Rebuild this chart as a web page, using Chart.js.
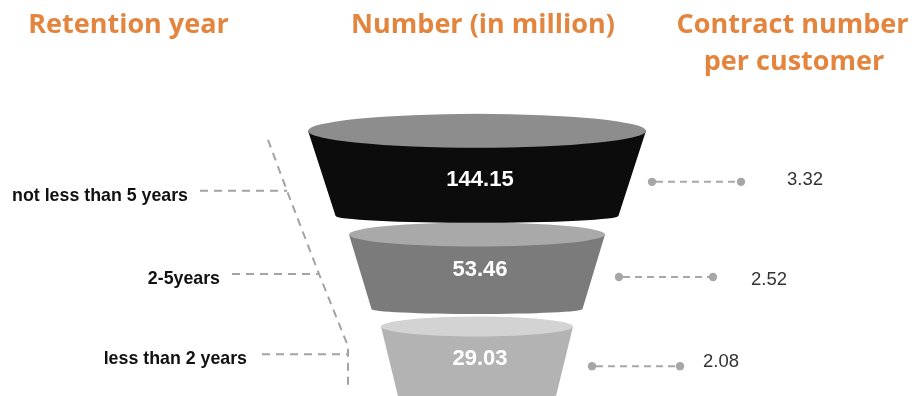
<!DOCTYPE html>
<html>
<head>
<meta charset="utf-8">
<script src="https://cdn.jsdelivr.net/npm/chart.js@4.4.1/dist/chart.umd.min.js"></script>
<style>
html,body{margin:0;padding:0;background:#fff;}
#wrap{width:917px;height:396px;position:relative;}
</style>
</head>
<body>
<div id="wrap"><canvas id="c" width="917" height="396"></canvas></div>
<script>
// ---- data ----
const categories = ["not less than 5 years", "2-5years", "less than 2 years"];
const customersMillion = [144.15, 53.46, 29.03];
const contractsPerCustomer = [3.32, 2.52, 2.08];
const headerTitles = ["Retention year", "Number (in million)", ["Contract number", "per customer"]];

// ---- styling (not data) ----
const ORANGE = "#E4853F";
const FUNNEL_STYLE = [
  { dTop: -60, dBot: 25, topHalf: 169, botHalf: 141.5, ry: 17, sag: 7, body: "#0c0c0c", cap: "#8d8d8d", textDy: 55 },
  { dTop: -38, dBot: 36.5, topHalf: 128, botHalf: 105.5, ry: 12, sag: 5, body: "#7b7b7b", cap: "#a9a9a9", textDy: 41.5 },
  { dTop: -27.7, dBot: 46, topHalf: 96, botHalf: 78, ry: 10, sag: 4, body: "#b3b3b3", cap: "#d3d3d3", textDy: 38.5 }
];
const RIGHT_STYLE = [
  { dy: -9, x0: 652, x1: 741, tx: 787, tdy: 3 },
  { dy: 4.5, x0: 619, x1: 713, tx: 751, tdy: 8 },
  { dy: 12, x0: 592, x1: 680, tx: 703, tdy: 1 }
];
const LEFT_STYLE = [
  { x0: 200, x1: 287, dy: 0, gap: 12 },
  { x0: 232, x1: 319, dy: 1.5, gap: 12 },
  { x0: 262, x1: 348, dy: 0, gap: 15 }
];

const funnelPlugin = {
  id: "funnel",
  afterDatasetsDraw(chart) {
    const ctx = chart.ctx;
    const meta = chart.getDatasetMeta(0);
    const area = chart.chartArea;
    const cx = area.left + 477;
    ctx.save();
    // funnel segments (drawn bottom-up so upper segments overlap lower caps)
    for (let i = meta.data.length - 1; i >= 0; i--) {
      const bar = meta.data[i];
      const s = FUNNEL_STYLE[i];
      const yT = bar.y + s.dTop, yB = bar.y + s.dBot;
      ctx.beginPath();
      ctx.moveTo(cx - s.topHalf, yT);
      ctx.lineTo(cx - s.botHalf, yB);
      ctx.ellipse(cx, yB, s.botHalf, s.sag, 0, Math.PI, 0, true);
      ctx.lineTo(cx + s.topHalf, yT);
      ctx.closePath();
      ctx.fillStyle = s.body;
      ctx.fill();
      ctx.beginPath();
      ctx.ellipse(cx, yT, s.topHalf, s.ry, 0, 0, Math.PI * 2);
      ctx.fillStyle = s.cap;
      ctx.fill();
      // value label
      ctx.fillStyle = "#ffffff";
      ctx.font = "bold 22px 'Liberation Sans', Arial, sans-serif";
      ctx.textAlign = "center";
      ctx.textBaseline = "alphabetic";
      ctx.fillText(customersMillion[i].toFixed(2), cx + 3, yT + s.textDy);
    }

    // left labels and leader lines
    ctx.strokeStyle = "#a3a3a3";
    ctx.lineWidth = 2;
    ctx.setLineDash([8, 6]);
    const ys = meta.data.map((b, i) => b.y + LEFT_STYLE[i].dy);
    meta.data.forEach((bar, i) => {
      const L = LEFT_STYLE[i];
      ctx.beginPath();
      ctx.moveTo(L.x0, ys[i]);
      ctx.lineTo(L.x1, ys[i]);
      ctx.stroke();
      ctx.fillStyle = "#111111";
      ctx.font = "bold 17.8px 'Liberation Sans', Arial, sans-serif";
      ctx.textAlign = "right";
      ctx.textBaseline = "alphabetic";
      ctx.fillText(categories[i], L.x0 - L.gap, ys[i] + 10);
    });
    // bracket line
    ctx.beginPath();
    ctx.moveTo(268, ys[0] - 51);
    ctx.lineTo(LEFT_STYLE[0].x1, ys[0]);
    ctx.lineTo(LEFT_STYLE[1].x1, ys[1]);
    ctx.lineTo(LEFT_STYLE[2].x1, ys[2] - 8);
    ctx.lineTo(LEFT_STYLE[2].x1, ys[2] + 36);
    ctx.stroke();

    // right side: dotted connectors and contract numbers
    meta.data.forEach((bar, i) => {
      const R = RIGHT_STYLE[i];
      const y = bar.y + R.dy;
      ctx.setLineDash([7, 5]);
      ctx.strokeStyle = "#a8a8a8";
      ctx.lineWidth = 2;
      ctx.beginPath();
      ctx.moveTo(R.x0 + 4, y);
      ctx.lineTo(R.x1 - 4, y);
      ctx.stroke();
      ctx.setLineDash([]);
      ctx.fillStyle = "#a6a6a6";
      [R.x0, R.x1].forEach(x => { ctx.beginPath(); ctx.arc(x, y, 4.2, 0, Math.PI * 2); ctx.fill(); });
      ctx.fillStyle = "#333333";
      ctx.font = "18.5px 'Liberation Sans', Arial, sans-serif";
      ctx.textAlign = "left";
      ctx.textBaseline = "alphabetic";
      ctx.fillText(contractsPerCustomer[i].toFixed(2), R.tx, y + R.tdy);
    });

    // headers
    ctx.fillStyle = ORANGE;
    ctx.font = "bold 27px 'Open Sans', sans-serif";
    ctx.textAlign = "center";
    ctx.textBaseline = "alphabetic";
    ctx.fillText(headerTitles[0], 128.5, 33);
    ctx.fillText(headerTitles[1], 483, 33);
    ctx.fillText(headerTitles[2][0], 792.5, 33);
    ctx.fillText(headerTitles[2][1], 794, 70);
    ctx.restore();
  }
};

new Chart(document.getElementById("c"), {
  type: "bar",
  data: {
    labels: categories,
    datasets: [{ data: customersMillion, backgroundColor: "rgba(0,0,0,0)", borderWidth: 0 }]
  },
  options: {
    indexAxis: "y",
    responsive: false,
    animation: false,
    events: [],
    layout: { padding: { top: 150, bottom: 1, left: 0, right: 0 } },
    plugins: { legend: { display: false }, tooltip: { enabled: false }, title: { display: false } },
    scales: {
      y: { display: false },
      x: { display: false, min: 0, max: 150 }
    }
  },
  plugins: [funnelPlugin]
});
</script>
</body>
</html>
